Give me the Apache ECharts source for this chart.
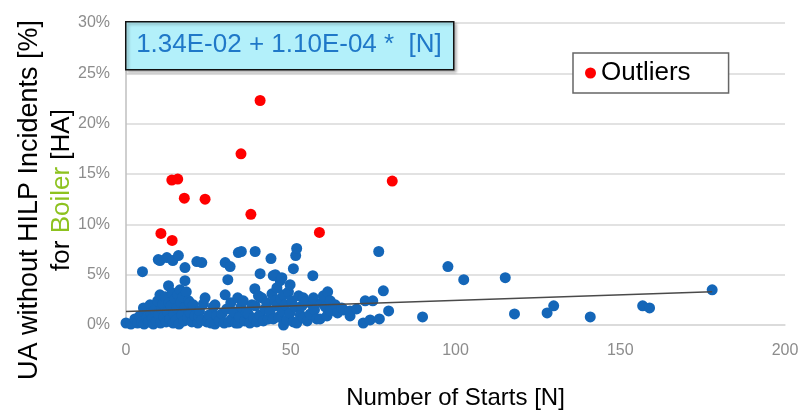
<!DOCTYPE html>
<html>
<head>
<meta charset="utf-8">
<script src="https://cdn.jsdelivr.net/npm/echarts@6/dist/echarts.min.js"></script>
<style>
  html, body { margin: 0; padding: 0; background: #fff; }
  #chart { width: 798px; height: 411px; }
</style>
</head>
<body>
<div id="chart"></div>
<script>
// x = number of starts, y = UA without HILP incidents in %
var blueData = [
  [0, 0.2], [1.5, 0.1], [2.7, 0.6], [3.5, 0.2], [4.2, 0.9], [4.8, 0.3], [5.0, 5.3], [5.3, 1.7],
  [5.5, 0.1], [6.3, 0.7], [6.8, 0.3], [7.3, 2.0], [7.5, 1.2], [8.0, 0.6], [8.3, 0.1], [8.8, 1.5],
  [9.2, 0.4], [9.6, 2.4], [9.8, 6.5], [9.9, 1.0], [10.3, 6.4], [10.3, 3.0], [10.5, 0.2], [10.8, 1.6],
  [11.2, 2.1], [11.5, 0.8], [11.9, 2.8], [12.2, 0.3], [12.4, 6.7], [12.6, 1.3], [12.9, 3.9], [13.0, 2.2],
  [13.3, 0.6], [13.6, 1.9], [14.0, 3.2], [14.2, 6.4], [14.3, 0.2], [14.6, 1.1], [14.9, 2.6], [15.2, 0.5],
  [15.5, 1.7], [15.8, 3.0], [15.9, 6.9], [16.1, 0.1], [16.4, 3.5], [16.6, 2.2], [17.0, 1.0], [17.3, 2.8],
  [17.6, 0.4], [17.9, 5.7], [17.9, 4.4], [18.0, 1.8], [18.3, 3.3], [18.7, 0.7], [19.0, 2.4], [19.4, 2.2],
  [19.5, 1.2], [20.0, 0.3], [20.4, 2.0], [20.9, 0.9], [21.5, 6.3], [21.8, 0.2], [22.0, 0.9], [22.3, 1.4],
  [23.0, 6.2], [23.0, 0.5], [23.5, 2.1], [24.0, 2.7], [24.5, 0.3], [25.0, 0.6], [25.2, 1.0], [25.8, 0.2],
  [26.5, 1.8], [27.0, 2.0], [27.0, 0.1], [27.6, 0.9], [28.3, 0.4], [29.1, 1.1], [29.8, 0.2], [30.1, 6.2],
  [30.1, 3.0], [30.6, 1.6], [30.9, 4.5], [31.2, 0.3], [31.6, 5.8], [31.8, 2.2], [32.1, 0.6], [32.7, 1.3],
  [33.3, 0.2], [33.9, 2.7], [34.1, 7.2], [34.1, 0.2], [34.4, 0.8], [34.9, 1.8], [35.0, 7.3], [35.6, 2.4],
  [36.0, 0.4], [36.5, 1.2], [37.1, 1.1], [37.6, 0.2], [38.2, 2.0], [38.7, 0.7], [39.1, 3.6], [39.2, 7.3],
  [39.2, 1.9], [39.7, 0.3], [40.2, 2.9], [40.6, 1.0], [40.7, 5.1], [41.2, 2.7], [41.7, 0.4], [42.2, 1.6],
  [42.7, 2.2], [43.2, 0.6], [43.7, 1.3], [44.0, 6.6], [44.3, 3.1], [44.7, 4.9], [44.7, 0.6], [45.2, 2.4],
  [45.3, 5.0], [45.8, 3.7], [45.8, 1.9], [46.3, 0.8], [46.8, 4.4], [46.9, 2.6], [47.3, 4.7], [47.4, 1.4],
  [47.8, 3.0], [47.8, 0.0], [48.3, 2.0], [48.8, 0.5], [49.3, 3.3], [49.8, 4.0], [49.8, 1.2], [50.3, 2.4],
  [50.8, 5.6], [50.8, 0.3], [51.3, 1.8], [51.5, 6.9], [51.8, 7.6], [51.8, 0.2], [52.4, 2.9], [52.9, 1.0],
  [53.4, 1.9], [53.8, 2.7], [53.8, 0.7], [54.4, 2.3], [55.0, 0.4], [55.9, 1.1], [56.5, 2.0], [56.7, 4.9],
  [56.9, 2.7], [57.2, 1.5], [57.9, 0.6], [58.9, 0.6], [59.5, 2.2], [59.9, 2.9], [60.5, 1.8], [61.0, 0.9],
  [61.2, 3.3], [62.0, 2.4], [62.0, 1.4], [63.5, 2.0], [64.2, 1.2], [65.5, 1.7], [66.0, 1.5], [68.0, 0.9],
  [68.0, 1.4], [70.0, 1.6], [72.0, 0.2], [72.6, 2.4], [74.1, 0.5], [74.9, 2.4], [76.7, 7.3], [76.9, 0.6],
  [78.1, 3.4], [79.7, 1.4], [90.0, 0.8], [97.7, 5.8], [102.5, 4.5], [115.1, 4.7], [117.9, 1.1], [127.8, 1.2],
  [129.8, 1.9], [140.9, 0.8], [156.8, 1.9], [158.9, 1.7], [177.9, 3.5]
];
var outlierData = [
  [10.6, 9.1], [14.0, 8.4], [13.9, 14.4], [15.7, 14.5], [17.7, 12.6], [24.0, 12.5],
  [34.9, 17.0], [37.9, 11.0], [40.7, 22.3], [58.7, 9.2], [80.8, 14.3]
];
// linear fit 1.34E-02 + 1.10E-04 * N, in %
var trendLine = [[0, 1.34], [177.9, 3.30]];
var xTicks = [0, 200, 50];
var yTicks = [0, 30, 5];
var equationText = '1.34E-02 + 1.10E-04 *  [N]';

var chart = echarts.init(document.getElementById('chart'));
var font = 'Arial, "Liberation Sans", sans-serif';

chart.setOption({
  animation: false,
  grid: { left: 126, right: 13, top: 23, bottom: 86, outerBoundsMode: 'none' },
  legend: {
    data: ['Outliers'],
    left: 573,
    top: 53,
    padding: [7, 38, 7, 12],
    icon: 'circle',
    itemWidth: 11,
    itemHeight: 11,
    itemGap: 0,
    backgroundColor: '#fff',
    borderColor: '#666',
    borderWidth: 1.5,
    textStyle: { fontFamily: font, fontSize: 26, color: '#000', padding: [0, 0, 0, 0] }
  },
  xAxis: {
    type: 'value',
    min: xTicks[0],
    max: xTicks[1],
    interval: xTicks[2],
    name: 'Number of Starts [N]',
    nameLocation: 'middle',
    nameGap: 61,
    nameTextStyle: { fontFamily: font, fontSize: 24, color: '#000' },
    axisLine: { show: true, lineStyle: { color: '#D9D9D9', width: 1.5 } },
    axisTick: { show: false },
    splitLine: { show: false },
    axisLabel: { fontFamily: font, fontSize: 16, color: '#8C8C8C', margin: 18 }
  },
  yAxis: {
    type: 'value',
    min: yTicks[0],
    max: yTicks[1],
    interval: yTicks[2],
    axisLine: { show: true, lineStyle: { color: '#BFBFBF', width: 1.5 } },
    axisTick: { show: false },
    splitLine: { lineStyle: { color: '#D9D9D9', width: 1.5 } },
    axisLabel: { fontFamily: font, fontSize: 16, color: '#8C8C8C', margin: 16, formatter: '{value}%' }
  },
  series: [
    {
      name: 'UA',
      type: 'scatter',
      data: blueData,
      symbolSize: 11,
      itemStyle: { color: '#1466B8', opacity: 1 },
      z: 3
    },
    {
      name: 'Trend',
      type: 'line',
      data: trendLine,
      symbol: 'none',
      lineStyle: { color: '#4A4A4A', width: 1.5 },
      z: 4
    },
    {
      name: 'Outliers',
      type: 'scatter',
      data: outlierData,
      symbolSize: 11,
      itemStyle: { color: '#FF0000', opacity: 1 },
      z: 5
    }
  ],
  graphic: [
    {
      type: 'rect',
      left: 125,
      top: 21,
      shape: { width: 328, height: 48 },
      style: {
        fill: '#B3F0FA', stroke: '#111', lineWidth: 1.5,
        shadowBlur: 3, shadowOffsetX: 2, shadowOffsetY: 2, shadowColor: 'rgba(0,0,0,0.3)'
      },
      z: 10
    },
    {
      type: 'text',
      x: 289,
      y: 45,
      style: {
        text: equationText,
        fontFamily: font, fontSize: 26, fill: '#1F78C8',
        textAlign: 'center', textVerticalAlign: 'middle'
      },
      z: 11
    },
    {
      type: 'text',
      x: 30,
      y: 200,
      rotation: Math.PI / 2,
      style: {
        text: 'UA without HILP Incidents [%]',
        fontFamily: font, fontSize: 27, fill: '#000',
        textAlign: 'center', textVerticalAlign: 'middle'
      }
    },
    {
      type: 'text',
      x: 62,
      y: 190,
      rotation: Math.PI / 2,
      style: {
        text: '{a|for }{g|Boiler}{a| [HA]}',
        fontFamily: font, fontSize: 26, fill: '#000',
        textAlign: 'center', textVerticalAlign: 'middle',
        rich: {
          a: { fontFamily: font, fontSize: 26, fill: '#000' },
          g: { fontFamily: font, fontSize: 26, fill: '#8DC21F' }
        }
      }
    }
  ]
});
</script>
</body>
</html>
